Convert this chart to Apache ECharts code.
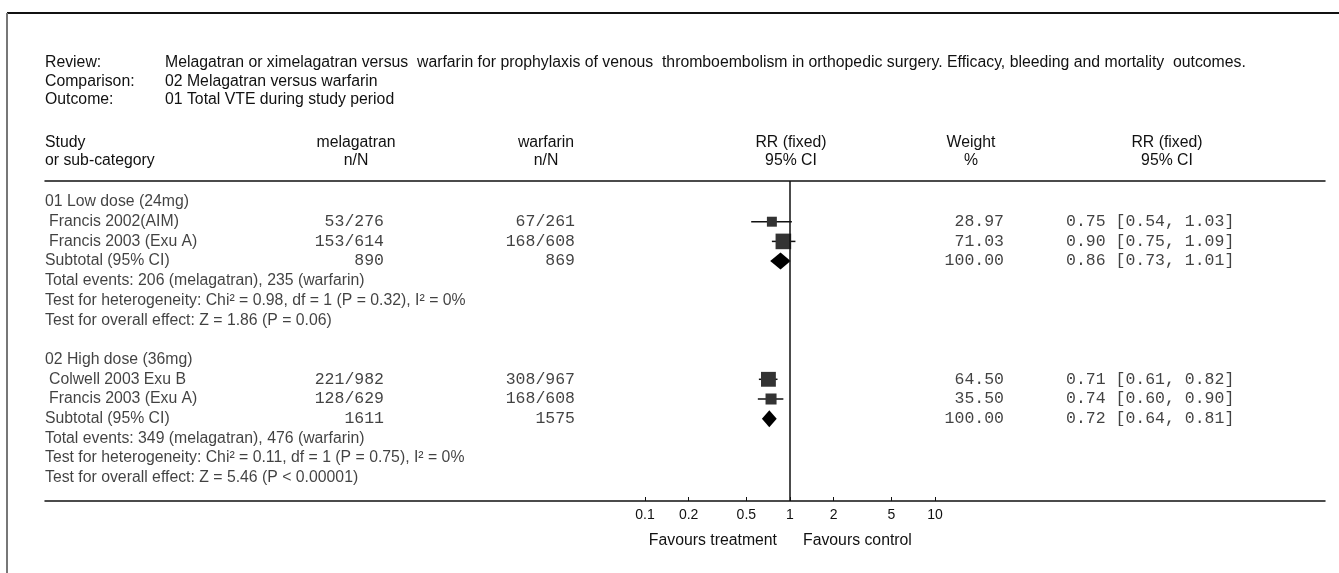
<!DOCTYPE html>
<html>
<head>
<meta charset="utf-8">
<script src="https://cdn.jsdelivr.net/npm/echarts@6/dist/echarts.min.js"></script>
<style>
  html, body { margin: 0; background: #fff; }
  #main { width: 1339px; height: 573px; }
</style>
</head>
<body>
<div id="main"></div>
<script>
// values
const headerLabels = ['Review:', 'Comparison:', 'Outcome:'];
const headerValues = [
  'Melagatran or ximelagatran versus  warfarin for prophylaxis of venous  thromboembolism in orthopedic surgery. Efficacy, bleeding and mortality  outcomes.',
  '02 Melagatran versus warfarin',
  '01 Total VTE during study period'
];
const groupNames = ['01 Low dose (24mg)', '02 High dose (36mg)'];
const studyNames = [['Francis 2002(AIM)', 'Francis 2003 (Exu A)'], ['Colwell 2003 Exu B', 'Francis 2003 (Exu A)']];
const melagatranNN = [['53/276', '153/614'], ['221/982', '128/629']];
const warfarinNN = [['67/261', '168/608'], ['308/967', '168/608']];
const studyWeight = [[28.97, 71.03], [64.50, 35.50]];
const studyRR = [[0.75, 0.90], [0.71, 0.74]];
const studyLow = [[0.54, 0.75], [0.61, 0.60]];
const studyHigh = [[1.03, 1.09], [0.82, 0.90]];
const subtotalMelagatran = [890, 1611];
const subtotalWarfarin = [869, 1575];
const subtotalRR = [0.86, 0.72];
const subtotalLow = [0.73, 0.64];
const subtotalHigh = [1.01, 0.81];
const totalEvents = ['Total events: 206 (melagatran), 235 (warfarin)', 'Total events: 349 (melagatran), 476 (warfarin)'];
const heterogeneity = ['Test for heterogeneity: Chi² = 0.98, df = 1 (P = 0.32), I² = 0%', 'Test for heterogeneity: Chi² = 0.11, df = 1 (P = 0.75), I² = 0%'];
const overallEffect = ['Test for overall effect: Z = 1.86 (P = 0.06)', 'Test for overall effect: Z = 5.46 (P < 0.00001)'];
const tickValues = [0.1, 0.2, 0.5, 1, 2, 5, 10];
const tickLabels = ['0.1', '0.2', '0.5', '1', '2', '5', '10'];

// layout
const SANS = 'Liberation Sans';
const MONO = 'Liberation Mono';
const SANS_SIZE = 15.8, MONO_SIZE = 16.5;
const gridTop = 181, gridBottom = 501, gridLeft = 45, gridRight = 1325;
const rowPx = 19.7, firstRowPx = 202;
const decadePx = 145, oneX = 790;
const col = { study: 45, name: 49, mel: 384, war: 575, weight: 1004, rr: 1066 };

const fmt2 = v => v.toFixed(2);

// build rows
const leftText = [], monoRight = [], monoLeft = [], squares = [], diamonds = [];
let row = 0;
groupNames.forEach((g, gi) => {
  leftText.push({ value: [col.study, row], name: g });
  studyNames[gi].forEach((nm, si) => {
    row++;
    leftText.push({ value: [col.name, row], name: nm });
    monoRight.push({ value: [col.mel, row], name: melagatranNN[gi][si] });
    monoRight.push({ value: [col.war, row], name: warfarinNN[gi][si] });
    monoRight.push({ value: [col.weight, row], name: fmt2(studyWeight[gi][si]) });
    monoLeft.push({ value: [col.rr, row], name: fmt2(studyRR[gi][si]) + ' [' + fmt2(studyLow[gi][si]) + ', ' + fmt2(studyHigh[gi][si]) + ']' });
    squares.push([Math.log10(studyRR[gi][si]), row, Math.log10(studyLow[gi][si]), Math.log10(studyHigh[gi][si]), studyWeight[gi][si]]);
  });
  row++;
  leftText.push({ value: [col.study, row], name: 'Subtotal (95% CI)' });
  monoRight.push({ value: [col.mel, row], name: String(subtotalMelagatran[gi]) });
  monoRight.push({ value: [col.war, row], name: String(subtotalWarfarin[gi]) });
  monoRight.push({ value: [col.weight, row], name: '100.00' });
  monoLeft.push({ value: [col.rr, row], name: fmt2(subtotalRR[gi]) + ' [' + fmt2(subtotalLow[gi]) + ', ' + fmt2(subtotalHigh[gi]) + ']' });
  diamonds.push([Math.log10(subtotalRR[gi]), row, Math.log10(subtotalLow[gi]), Math.log10(subtotalHigh[gi])]);
  row++;
  leftText.push({ value: [col.study, row], name: totalEvents[gi] });
  row++;
  leftText.push({ value: [col.study, row], name: heterogeneity[gi] });
  row++;
  leftText.push({ value: [col.study, row], name: overallEffect[gi] });
  row += 2;
});

const yMin = -(firstRowPx - gridTop) / rowPx;
const yMax = yMin + (gridBottom - gridTop) / rowPx;
const xMin = (gridLeft - oneX) / decadePx;
const xMax = (gridRight - oneX) / decadePx;
const logTicks = tickValues.map(v => Math.log10(v));

function textSeries(data, align, family, size) {
  return {
    type: 'scatter', xAxisIndex: 1, yAxisIndex: 0,
    symbolSize: 0, itemStyle: { color: 'transparent' }, silent: true,
    data: data,
    label: {
      show: true, position: 'inside', align: align, verticalAlign: 'middle',
      formatter: '{b}', color: '#111', fontFamily: family, fontSize: size
    }
  };
}

function gText(text, x, y, align) {
  return {
    type: 'text', x: x, y: y, silent: true,
    style: { text: text, fill: '#111', fontSize: SANS_SIZE, fontFamily: SANS, align: align || 'left', verticalAlign: 'middle' }
  };
}

const graphics = [
  { type: 'line', shape: { x1: 7, y1: 13, x2: 1339, y2: 13 }, style: { stroke: '#111', lineWidth: 2 } },
  { type: 'line', shape: { x1: 7, y1: 13, x2: 7, y2: 573 }, style: { stroke: '#777', lineWidth: 2 } }
];
headerLabels.forEach((t, i) => {
  graphics.push(gText(t, 45, 63 + i * 18.5));
  graphics.push(gText(headerValues[i], 165, 63 + i * 18.5));
});
graphics.push(gText('Study', 45, 143), gText('or sub-category', 45, 161));
graphics.push(gText('melagatran', 356, 143, 'center'), gText('n/N', 356, 161, 'center'));
graphics.push(gText('warfarin', 546, 143, 'center'), gText('n/N', 546, 161, 'center'));
graphics.push(gText('RR (fixed)', 791, 143, 'center'), gText('95% CI', 791, 161, 'center'));
graphics.push(gText('Weight', 971, 143, 'center'), gText('%', 971, 161, 'center'));
graphics.push(gText('RR (fixed)', 1167, 143, 'center'), gText('95% CI', 1167, 161, 'center'));
graphics.push(gText('Favours treatment', 777, 541, 'right'), gText('Favours control', 803, 541, 'left'));

const chart = echarts.init(document.getElementById('main'));
chart.setOption({
  animation: false,
  backgroundColor: '#fff',
  grid: { left: gridLeft, right: 1339 - gridRight, top: gridTop, bottom: 573 - gridBottom, containLabel: false },
  xAxis: [
    {
      type: 'value', min: xMin, max: xMax, position: 'bottom',
      axisLine: { show: true, onZero: false, lineStyle: { color: '#111', width: 1.5 } },
      axisTick: { show: true, inside: true, length: 4, customValues: logTicks, lineStyle: { color: '#111' } },
      axisLabel: {
        show: true, customValues: logTicks, margin: 7, color: '#111', fontFamily: SANS, fontSize: 14,
        formatter: v => {
          let best = 0;
          logTicks.forEach((t, i) => { if (Math.abs(t - v) < Math.abs(logTicks[best] - v)) best = i; });
          return tickLabels[best];
        }
      },
      splitLine: { show: false }
    },
    {
      type: 'value', min: gridLeft, max: gridRight, position: 'top',
      axisLine: { show: true, onZero: false, lineStyle: { color: '#111', width: 1.5 } },
      axisTick: { show: false }, axisLabel: { show: false }, splitLine: { show: false }
    }
  ],
  yAxis: { type: 'value', inverse: true, min: yMin, max: yMax, show: false, splitLine: { show: false } },
  graphic: graphics,
  series: [
    {
      type: 'custom', xAxisIndex: 0, yAxisIndex: 0, silent: true,
      data: squares,
      renderItem: (params, api) => {
        const y = api.value(1);
        const p = api.coord([api.value(0), y]);
        const lo = api.coord([api.value(2), y]);
        const hi = api.coord([api.value(3), y]);
        const s = 1.85 * Math.sqrt(api.value(4));
        return {
          type: 'group',
          children: [
            { type: 'line', shape: { x1: lo[0], y1: p[1], x2: hi[0], y2: p[1] }, style: { stroke: '#111', lineWidth: 1.5 } },
            { type: 'rect', shape: { x: p[0] - s / 2, y: p[1] - s / 2, width: s, height: s }, style: { fill: '#333' } }
          ]
        };
      }
    },
    {
      type: 'custom', xAxisIndex: 0, yAxisIndex: 0, silent: true,
      data: diamonds,
      renderItem: (params, api) => {
        const y = api.value(1);
        const p = api.coord([api.value(0), y]);
        const lo = api.coord([api.value(2), y]);
        const hi = api.coord([api.value(3), y]);
        const h = 8.5;
        return {
          type: 'polygon',
          shape: { points: [[lo[0], p[1]], [p[0], p[1] - h], [hi[0], p[1]], [p[0], p[1] + h]] },
          style: { fill: '#000' }
        };
      }
    },
    {
      type: 'scatter', xAxisIndex: 0, yAxisIndex: 0, silent: true,
      symbolSize: 0, data: diamonds.map(d => [d[0], d[1]]),
      markLine: {
        silent: true, symbol: ['none', 'none'], animation: false,
        label: { show: false },
        lineStyle: { color: '#111', width: 1.5, type: 'solid' },
        data: [{ xAxis: 0 }]
      }
    },
    textSeries(leftText, 'left', SANS, SANS_SIZE),
    textSeries(monoRight, 'right', MONO, MONO_SIZE),
    textSeries(monoLeft, 'left', MONO, MONO_SIZE)
  ]
});
</script>
</body>
</html>
